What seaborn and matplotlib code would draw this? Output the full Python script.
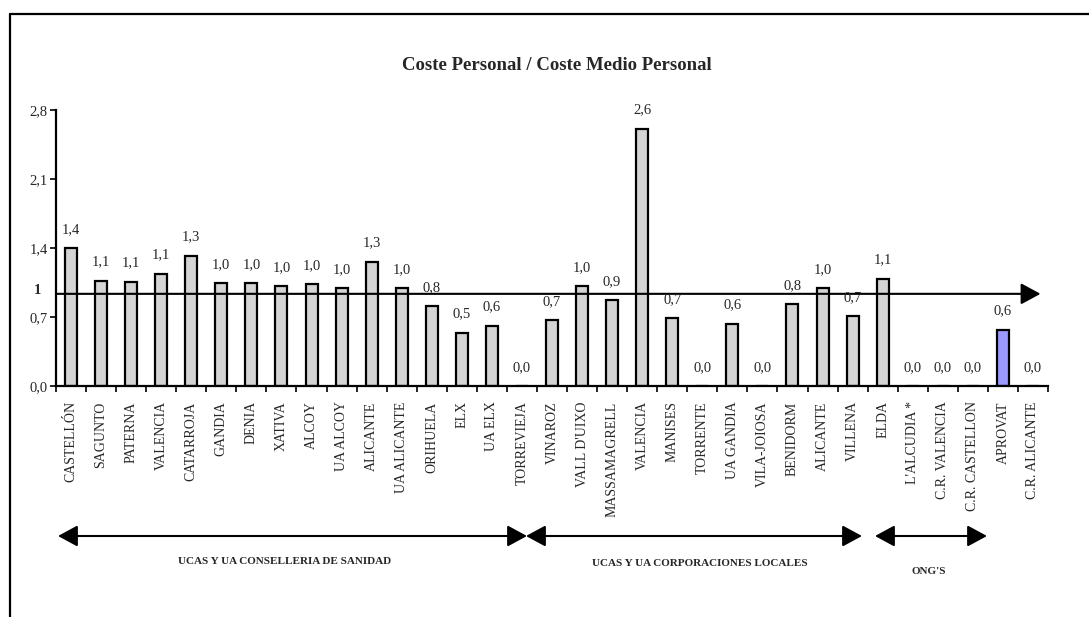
import matplotlib
matplotlib.use("Agg")
import matplotlib.pyplot as plt
from matplotlib.patches import FancyArrowPatch
from matplotlib.lines import Line2D
import seaborn as sns
import pandas as pd

categories = ["CASTELLÓN", "SAGUNTO", "PATERNA", "VALENCIA", "CATARROJA", "GANDIA",
              "DENIA", "XATIVA", "ALCOY", "UA ALCOY", "ALICANTE", "UA ALICANTE",
              "ORIHUELA", "ELX", "UA ELX", "TORREVIEJA", "VINAROZ", "VALL D'UIXO",
              "MASSAMAGRELL", "VALENCIA", "MANISES", "TORRENTE", "UA GANDIA",
              "VILA-JOIOSA", "BENIDORM", "ALICANTE", "VILLENA", "ELDA", "L'ALCUDIA *",
              "C.R. VALENCIA", "C.R. CASTELLON", "APROVAT", "C.R. ALICANTE"]
values = [1.40, 1.07, 1.06, 1.14, 1.32, 1.04, 1.04, 1.01, 1.03, 0.99, 1.26, 0.99,
          0.81, 0.54, 0.61, 0.0, 0.67, 1.01, 0.87, 2.61, 0.69, 0.0, 0.63, 0.0,
          0.83, 0.99, 0.71, 1.09, 0.0, 0.0, 0.0, 0.57, 0.0]
highlight = ["APROVAT"]
yticks = [0.0, 0.7, 1.4, 2.1, 2.8]
ref_value = 0.935
groups = ["UCAS Y UA CONSELLERIA DE SANIDAD", "UCAS Y UA CORPORACIONES LOCALES", "ONG'S"]
title = "Coste Personal / Coste Medio Personal"

sns.set_style("white")
plt.rcParams["font.family"] = ["Liberation Serif", "DejaVu Serif"]

W, H = 1089, 617
fig = plt.figure(figsize=(W / 100, H / 100), dpi=100)
x0, x1, ytop, ybot = 56, 1048, 110, 386
ax = fig.add_axes([x0 / W, 1 - ybot / H, (x1 - x0) / W, (ybot - ytop) / H])

ids = [f"{i:02d}" for i in range(len(categories))]
df = pd.DataFrame({"id": ids, "cat": categories, "val": values})
pal = {i: ("#9999FF" if c in highlight else "#D4D4D4") for i, c in zip(ids, categories)}
sns.barplot(data=df, x="id", y="val", hue="id", palette=pal, legend=False,
            width=0.4, edgecolor="black", linewidth=1.6, saturation=1, ax=ax)

ax.set_xlim(-0.5, len(categories) - 0.5)
ax.set_ylim(0, 2.8)
ax.set_xlabel("")
ax.set_ylabel("")
for s in ["top", "right"]:
    ax.spines[s].set_visible(False)
for s in ["left", "bottom"]:
    ax.spines[s].set_color("black")
    ax.spines[s].set_linewidth(1.6)

ax.set_yticks(yticks)
ax.set_yticklabels([f"{t:.1f}".replace(".", ",") for t in yticks], fontsize=10.5)
ax.tick_params(axis="y", direction="out", length=4, width=1.2, color="black", pad=2, left=True)
ax.set_xticks(range(len(categories)))
ax.set_xticklabels(categories, rotation=90, fontsize=10)
ax.set_xticks([i - 0.5 for i in range(len(categories) + 1)], minor=True)
ax.tick_params(axis="x", which="major", length=0, pad=11)
ax.tick_params(axis="x", which="minor", direction="out", length=4, width=1.2, color="black", bottom=True)

# value labels
for i, v in enumerate(values):
    ax.text(i, v + 0.19, f"{v:.1f}".replace(".", ","), ha="center", va="center", fontsize=10.5)

# reference line with arrow
ax.text(-0.5 - 0.5, 0.965, "1", ha="right", va="center", fontsize=10.5, fontweight="bold",
        transform=ax.transData, clip_on=False)
arr = FancyArrowPatch((-0.5, ref_value), (32.25, ref_value), arrowstyle="-|>,head_length=12,head_width=6.5",
                      mutation_scale=1, color="black", lw=1.5, shrinkA=0, shrinkB=0, clip_on=False)
ax.add_patch(arr)

# title
fig.text(557 / W, 1 - 66 / H, title, ha="center", va="center", fontsize=13.5, fontweight="bold")

# group arrows and labels
spans = [(58, 527), (526, 862), (875, 987)]
label_pos = [(285, 562), (700, 563), (929, 572)]
ya = 536
for (a, b), (lx, ly), g in zip(spans, label_pos, groups):
    p = FancyArrowPatch((a / W, 1 - ya / H), (b / W, 1 - ya / H), transform=fig.transFigure,
                        arrowstyle="<|-|>,head_length=12,head_width=6.5", mutation_scale=1,
                        color="black", lw=1.5, shrinkA=0, shrinkB=0)
    fig.patches.append(p)
    fig.text(lx / W, 1 - ly / H, g, ha="center", va="center", fontsize=8, fontweight="bold")

# outer frame (top and left)
fig.lines.append(Line2D([10 / W, 1], [1 - 14 / H, 1 - 14 / H], transform=fig.transFigure, color="black", lw=1.6))
fig.lines.append(Line2D([10 / W, 10 / W], [1 - 14 / H, 0], transform=fig.transFigure, color="black", lw=1.6))

fig.savefig("out.png", dpi=100)
